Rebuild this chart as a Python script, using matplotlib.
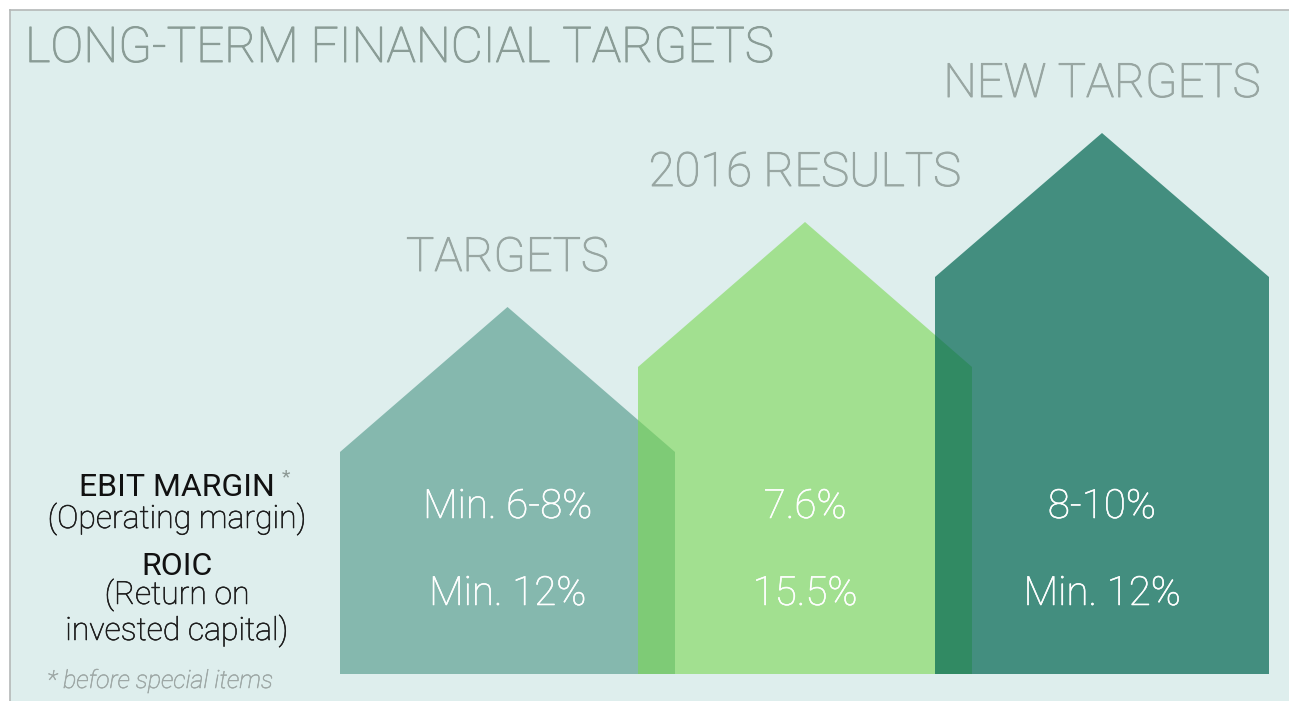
import matplotlib.pyplot as plt
import matplotlib.patheffects as pe
from matplotlib.patches import Rectangle, Polygon

# chart content
title = 'LONG-TERM FINANCIAL TARGETS'
columns = ['TARGETS', '2016 RESULTS', 'NEW TARGETS']
ebit_values = ['Min. 6-8%', '7.6%', '8-10%']
roic_values = ['Min. 12%', '15.5%', 'Min. 12%']
row_titles = ['EBIT MARGIN', 'ROIC']
row_notes = ['(Operating margin)', '(Return on\ninvested capital)']
footnote = '* before special items'

# house shapes in pixel space (left, right, shoulder y, peak y)
house_left = [340, 638, 935]
house_right = [675, 972, 1269]
house_shoulder = [452, 367, 277]
house_peak = [307, 222, 133]
baseline = 674
house_colors = ['#85b8ae', '#7ad852', '#016650']
house_alpha = [1.0, 0.6, 0.7]

W, H = 1289, 701
plt.rcParams['font.family'] = ['Roboto', 'DejaVu Sans']


def thicker(color, lw=0.7):
    # Roboto Light is a bit thinner than the original face, so add a hairline stroke
    return [pe.withStroke(linewidth=lw, foreground=color)]


fig = plt.figure(figsize=(W / 100, H / 100), dpi=100)
ax = fig.add_axes([0, 0, 1, 1])
ax.set_xlim(0, W)
ax.set_ylim(H, 0)
ax.axis('off')

# panel
ax.add_patch(Rectangle((10, 10), W - 10, H - 10, facecolor='#deeeed', edgecolor='none', zorder=0))
ax.plot([10, W], [10, 10], color='#b4b8b7', lw=1.2, zorder=1)
ax.plot([10, 10], [10, H], color='#b4b8b7', lw=1.2, zorder=1)

ax.text(25, 62, title, fontsize=35.5, fontweight='light', color='#8a9c96', va='baseline', ha='left',
        path_effects=thicker('#8a9c96'))

for i in range(3):
    l, r = house_left[i], house_right[i]
    xs = [l, l, (l + r) / 2, r, r]
    ys = [baseline, house_shoulder[i], house_peak[i], house_shoulder[i], baseline]
    ax.add_patch(Polygon(list(zip(xs, ys)), closed=True, facecolor=house_colors[i],
                         alpha=house_alpha[i], edgecolor='none', zorder=2 + i))
    cx = (l + r) / 2
    ax.text(cx, house_peak[i] - 36, columns[i], fontsize=34, fontweight='light',
            color='#98a6a2', ha='center', va='baseline', path_effects=thicker('#98a6a2'))
    ax.text(cx, 518, ebit_values[i], fontsize=29, fontweight='light', color='white',
            ha='center', va='baseline', zorder=10, path_effects=thicker('white', 0.4))
    ax.text(cx, 605, roic_values[i], fontsize=29, fontweight='light', color='white',
            ha='center', va='baseline', zorder=10, path_effects=thicker('white', 0.4))

# row labels
lx = 177
ax.text(lx, 496, row_titles[0], fontsize=23, color='#111111', ha='center', va='baseline')
ax.text(282, 482, '*', fontsize=14, color='#8c9894', ha='left', va='baseline')
ax.text(lx, 528, row_notes[0], fontsize=23, fontweight='light', color='#1c1c1c', ha='center',
        va='baseline', path_effects=thicker('#1c1c1c', 0.4))
ax.text(lx, 575, row_titles[1], fontsize=23, color='#111111', ha='center', va='baseline')
ax.text(lx, 640, row_notes[1], fontsize=23, fontweight='light', color='#1c1c1c', ha='center',
        va='baseline', linespacing=1.15, multialignment='center', path_effects=thicker('#1c1c1c', 0.4))

ax.text(47, 688, footnote, fontsize=18, style='italic', fontweight='light', color='#9ea8a6',
        ha='left', va='baseline', path_effects=thicker('#9ea8a6', 0.4))

fig.savefig('out.png', dpi=100)
